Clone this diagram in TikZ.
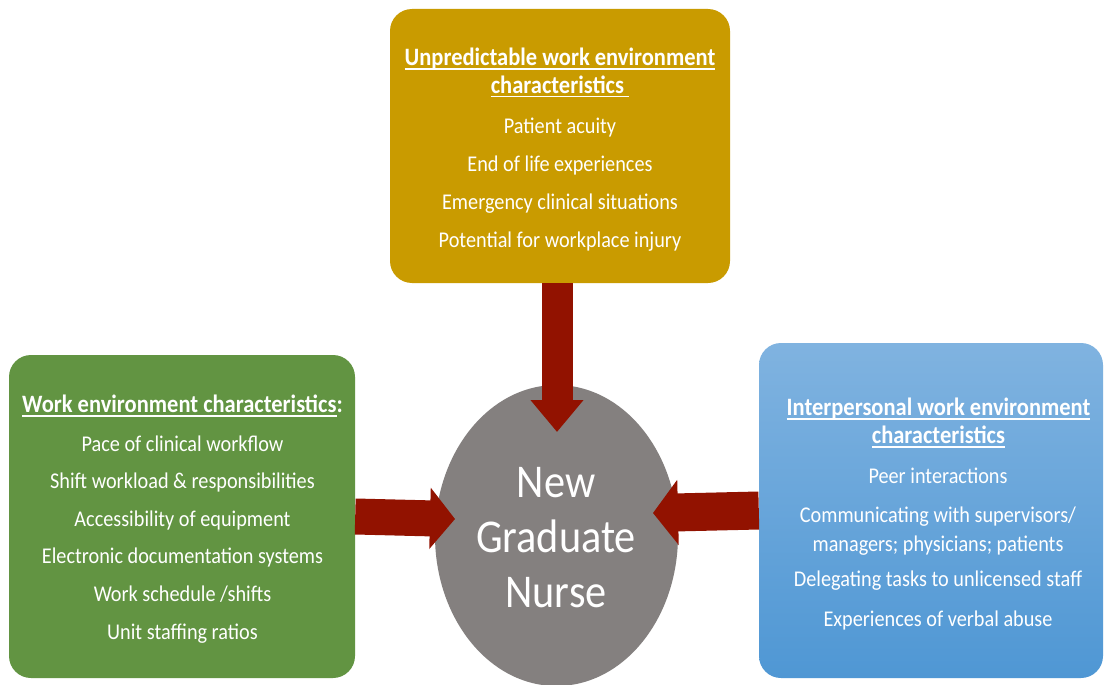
\documentclass[tikz,border=0pt]{standalone}
\usepackage{fontspec}
\setmainfont{Carlito}[FakeStretch=0.9]
\usetikzlibrary{shapes.geometric,arrows.meta}

% underlined heading text: a rule at a fixed depth below the baseline
\newsavebox{\hdbox}
\newcommand{\hdul}[1]{\sbox{\hdbox}{#1}\rlap{\rule[-4.5pt]{\wd\hdbox}{1.6pt}}\usebox{\hdbox}}

\definecolor{goldpanel}{RGB}{201,155,0}
\definecolor{greenpanel}{RGB}{98,148,66}
\definecolor{bluetop}{RGB}{128,179,224}
\definecolor{bluebottom}{RGB}{79,151,212}
\definecolor{nursegray}{RGB}{132,128,127}
\definecolor{arrowred}{RGB}{146,18,0}

\begin{document}
\begin{tikzpicture}[x=1pt,y=-1pt,
  panel/.style={rectangle, rounded corners=22pt, inner sep=0pt},
  % multi-line nodes are placed by the baseline of their last line
  heading/.style={text=white, font=\fontsize{25}{28}\selectfont\bfseries,
    align=center, inner sep=0pt, anchor=base},
  itemlist/.style={text=white, font=\fontsize{22.5}{29}\selectfont,
    align=center, inner sep=0pt, anchor=base},
  flowarrow/.style n args={3}{draw=arrowred, line width=#1,
    -{Triangle[length=#3, width=#2]}}
]
% canvas
\fill[white] (0,0) rectangle (1104,685);
\useasboundingbox (0,0) rectangle (1104,685);

% the three panels
\node[panel, fill=goldpanel, minimum width=340pt, minimum height=274pt]
  (unpred) at (560,146) {};
\node[panel, fill=greenpanel, minimum width=346pt, minimum height=323pt]
  (workenv) at (182,516.5) {};
\node[panel, top color=bluetop, bottom color=bluebottom,
  minimum width=344pt, minimum height=335pt]
  (interp) at (931,510.5) {};

% central ellipse
\node[ellipse, fill=nursegray, inner sep=0pt,
  minimum width=243pt, minimum height=301pt] (nurse) at (556.5,535.5) {};

% panel headings
\node[heading] (unpredHead) at (560,93)
  {\hdul{Unpredictable work environment}\\\hdul{characteristics\ }};
\node[heading] (workenvHead) at (182.5,412)
  {\hdul{Work environment characteristics}:};
\node[heading] (interpHead) at (938.5,443)
  {\hdul{Interpersonal work environment}\\\hdul{characteristics}};

% panel contents
\node[itemlist] (unpredList) at (560,247)
  {Patient acuity\\[9pt]End of life experiences\\[9pt]Emergency clinical situations\\[9pt]Potential for workplace injury};
\node[itemlist] (workenvList) at (182.5,639)
  {Pace of clinical workflow\\[8.6pt]Shift workload \& responsibilities\\[8.6pt]Accessibility of equipment\\[8.6pt]Electronic documentation systems\\[8.6pt]Work schedule /shifts\\[8.6pt]Unit staffing ratios};
\node[itemlist] (interpList) at (938,626)
  {Peer interactions\\[10pt]Communicating with supervisors/\\managers; physicians; patients\\[6pt]Delegating tasks to unlicensed staff\\[11pt]Experiences of verbal abuse};

% centre label
\node[text=white, font=\fontsize{47}{55}\selectfont, align=center,
  inner sep=0pt, anchor=base] (nurseLabel) at (556,607)
  {New\\Graduate\\Nurse};

% influence arrows
\coordinate (tipT) at (557,432);
\coordinate (tipL) at (455,519);
\coordinate (tipR) at (653,513);
\draw[flowarrow={31pt}{51pt}{32pt}] (tipT |- unpred.south) -- (tipT);
\draw[flowarrow={36pt}{60pt}{25pt}] (workenv.east) -- (tipL);
\draw[flowarrow={38pt}{64pt}{25pt}] (interp.west) -- (tipR);
\end{tikzpicture}
\end{document}
